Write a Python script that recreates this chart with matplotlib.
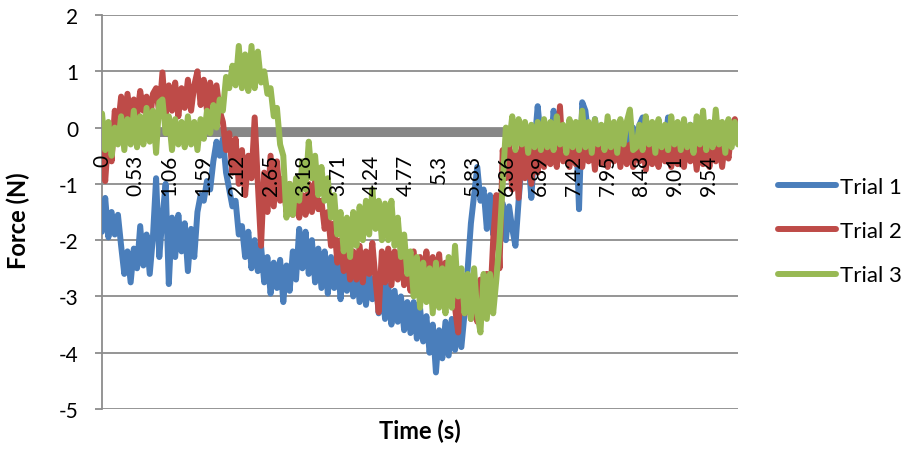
import numpy as np
import matplotlib.pyplot as plt
from matplotlib.transforms import ScaledTranslation

plt.rcParams['font.family'] = ['Lato', 'DejaVu Sans']
plt.rcParams['axes.unicode_minus'] = False

# Force readings (N), one value every 0.05 s from 0 to 10 s
trial1 = [
    -1.85, -1.25, -1.95, -1.5, -1.9, -1.55, -2.1, -2.6, -2.2, -2.75,
    -2.15, -2.5, -1.75, -2.45, -1.9, -2.6, -1.95, -0.9, -2.3, -1.6,
    -1.0, -2.78, -1.6, -2.3, -1.55, -2.2, -1.7, -2.55, -1.8, -2.3,
    -1.5, -1.2, -1.3, -0.95, -1.1, -0.6, -0.25, -0.5, -0.2, -0.8,
    -1.1, -1.4, -1.3, -1.9, -1.75, -2.3, -1.85, -2.5, -2.0, -2.55,
    -2.1, -2.75, -2.3, -2.95, -2.4, -2.85, -2.35, -3.1, -2.45, -2.9,
    -2.2, -2.7, -1.8, -2.5, -1.85, -2.6, -2.0, -2.75, -2.15, -2.85,
    -2.2, -2.95, -2.3, -2.85, -2.25, -3.05, -2.4, -2.9, -2.35, -3.0,
    -2.5, -3.1, -2.55, -3.15, -2.6, -3.05, -2.65, -3.3, -2.75, -3.4,
    -2.8, -3.5, -2.9, -3.45, -3.0, -3.6, -3.1, -3.65, -3.1, -3.75,
    -3.2, -3.8, -3.35, -4.0, -3.5, -4.35, -3.6, -4.1, -3.45, -4.05,
    -3.4, -3.95, -3.35, -3.9, -3.3, -2.5, -1.7, -1.2, -0.7, -1.3,
    -1.1, -1.8, -1.2, -1.9, -1.3, -1.75, -1.35, -2.0, -1.4, -1.8,
    -2.1, -1.3, -0.6, -0.2, -0.5, -1.25, -0.3, 0.38, -0.2, -0.5,
    -0.1, -0.45, 0.3, -0.2, -0.5, 0.0, -0.4, -0.1, -0.45, 0.05,
    -1.45, 0.45, 0.3, -0.2, -0.4, 0.15, -0.3, -0.05, -0.45, 0.0,
    -0.3, 0.05, -0.4, -0.05, -0.35, 0.05, -0.4, 0.0, -0.3, 0.05,
    0.18, -0.3, 0.0, -0.4, 0.05, -0.3, 0.0, -0.35, 0.18, -0.68,
    -0.2, 0.05, -0.35, 0.0, -0.4, 0.05, -0.3, 0.0, -0.35, 0.05,
    -0.3, 0.0, -0.4, 0.05, -0.3, 0.0, -0.35, 0.05, -0.3, 0.0,
    -0.2,
]

trial2 = [
    -0.4, -0.95, -0.1, -0.6, 0.3, 0.0, 0.55, 0.1, 0.6, 0.15,
    0.5, 0.2, 0.65, 0.3, 0.55, 0.1, 0.6, 0.7, 0.25, 0.98,
    0.2, 0.75, 0.3, 0.8, 0.2, 0.7, 0.35, 0.85, 0.3, 0.75,
    1.0, 0.4, 0.85, 0.3, 0.8, 0.35, 0.75, 0.3, 0.1, -0.4,
    -0.1, -0.8, -0.2, -1.0, -0.4, -1.2, -0.5, -0.9, 0.18, -1.0,
    -2.1, -0.8, -1.5, -0.5, -1.4, -0.6, -1.3, -0.9, -1.5, -1.0,
    -1.55, -1.1, -1.6, -1.2, -1.55, -1.0, -1.5, -0.95, -1.45, -1.3,
    -1.8, -1.5, -2.1, -1.7, -2.4, -2.0, -2.55, -2.1, -2.7, -2.2,
    -2.7, -2.1, -2.75, -2.2, -2.6, -2.05, -2.7, -3.28, -2.2, -2.75,
    -2.15, -2.8, -2.2, -2.7, -2.1, -2.8, -2.3, -2.9, -2.2, -2.95,
    -2.3, -3.0, -2.2, -2.9, -2.3, -3.05, -2.25, -2.95, -2.4, -3.1,
    -2.5, -3.2, -3.64, -2.6, -3.3, -2.7, -3.4, -2.8, -3.45, -2.7,
    -3.3, -2.6, -3.2, -2.0, -1.2, -2.5, -0.4, -0.9, -0.3, -1.1,
    -0.4, -1.25, -0.3, -0.9, -0.35, -1.0, -0.3, -0.8, -0.2, -0.7,
    -0.3, -0.65, -0.2, -0.7, 0.38, -0.6, -0.2, -0.7, -0.25, -0.65,
    -0.2, -0.7, -0.25, -0.6, -0.15, -0.75, -0.2, -0.65, -0.3, -0.7,
    -0.2, -0.6, -0.25, -0.7, -0.2, -0.65, -0.3, -0.7, -0.2, -0.6,
    -0.25, -0.75, -0.2, -0.65, -0.3, -0.7, -0.2, -0.6, -0.25, -0.7,
    -0.2, -0.65, -0.3, -0.7, -0.2, -0.6, -0.25, -0.75, -0.2, -0.65,
    -0.3, -0.7, -0.2, -0.6, -0.25, -0.7, -0.2, -0.55, 0.0, 0.15,
    -0.1,
]

trial3 = [
    0.25, -0.4, 0.1, -0.5, 0.0, -0.3, 0.2, -0.4, 0.15, -0.3,
    0.3, -0.35, 0.2, -0.3, 0.35, -0.25, 0.3, -0.45, 0.45, 0.5,
    -0.1, 0.2, -0.4, 0.15, -0.3, 0.1, -0.35, 0.2, -0.3, 0.1,
    -0.4, 0.15, -0.2, 0.3, -0.1, 0.4, 0.0, 0.5, 0.3, 0.9,
    0.7, 1.1, 0.75, 1.45, 0.7, 1.3, 0.65, 1.45, 0.7, 1.35,
    0.8, 1.0, 0.6, 0.7, 0.2, 0.35, -0.3, -0.5, -1.6, -1.0,
    -1.55, -0.9, -1.3, -0.6, -1.1, -0.25, -0.9, -0.5, -1.2, -0.7,
    -1.3, -0.9, -1.6, -1.2, -1.9, -1.5, -2.2, -1.6, -2.3, -1.5,
    -2.1, -1.4, -2.0, -1.3, -1.9, -1.1, -1.8, -1.3, -2.0, -1.35,
    -2.0, -1.3, -2.1, -1.6, -2.3, -1.9, -2.6, -2.2, -3.0, -2.3,
    -3.2, -2.4, -3.1, -2.5, -3.3, -2.4, -3.2, -2.5, -3.3, -2.3,
    -3.2, -2.1, -3.0, -2.5, -3.3, -2.6, -3.4, -2.5, -3.3, -3.64,
    -2.6, -3.4, -2.6, -3.3, -2.7, -2.0, -1.0, 0.0, -0.3, 0.2,
    -0.4, 0.15, -0.3, 0.1, -0.45, 0.05, -0.35, 0.1, -0.4, 0.15,
    -0.35, 0.1, -0.4, 0.2, -0.3, 0.05, -0.45, 0.15, -0.35, 0.1,
    -0.4, 0.3, -0.35, 0.1, -0.45, 0.15, -0.3, 0.05, -0.4, 0.2,
    -0.35, 0.1, -0.45, 0.15, -0.3, 0.1, 0.32, -0.4, -0.35, 0.05,
    -0.4, 0.2, -0.3, 0.1, -0.45, 0.15, -0.35, 0.05, -0.4, 0.2,
    -0.3, 0.1, -0.4, 0.15, -0.35, 0.05, -0.45, 0.2, -0.3, 0.3,
    -0.4, 0.1, -0.35, 0.32, -0.3, 0.1, -0.45, 0.15, -0.35, 0.1,
    -0.3,
]

tick_labels = ["0", "0.53", "1.06", "1.59", "2.12", "2.65", "3.18", "3.71", "4.24", "4.77",
               "5.3", "5.83", "6.36", "6.89", "7.42", "7.95", "8.48", "9.01", "9.54"]
series_names = ["Trial 1", "Trial 2", "Trial 3"]
colors = ["#4A7EBB", "#BE4B48", "#98B954"]

t = np.arange(len(trial1)) * 0.05

fig = plt.figure(figsize=(9.07, 4.52), dpi=100)
ax = fig.add_axes([0.1125, 0.0929, 0.7012, 0.8717])

for y, name, c in zip([trial1, trial2, trial3], series_names, colors):
    ax.plot(t, y, color=c, lw=4.3, label=name, zorder=3,
            solid_joinstyle='round', solid_capstyle='round')

ax.set_xlim(0, 10)
ax.set_ylim(-5, 2)
ax.set_yticks(range(-5, 3))
ax.grid(axis='y', color='#8C8C8C', lw=1.3)
ax.yaxis.set_zorder(0.5)

# thick category axis crossing at zero, drawn just below the zero line
zero_line = ax.axhline(0, color='#878787', lw=6.5, zorder=1)
zero_line.set_transform(zero_line.get_transform() + ScaledTranslation(0, -4.5 / 100, fig.dpi_scale_trans))

for s in ['top', 'right']:
    ax.spines[s].set_visible(False)
ax.spines['bottom'].set_position(('data', 0))
ax.spines['bottom'].set_visible(False)
ax.spines['left'].set_color('#8C8C8C')
ax.spines['left'].set_linewidth(1.3)

ax.set_xticks([float(v) for v in tick_labels])
ax.set_xticklabels(tick_labels, rotation=90)
ax.tick_params(axis='x', length=0, pad=19, labelsize=15)
ax.xaxis.set_zorder(5)
ax.tick_params(axis='y', length=5, width=1.3, color='#8C8C8C', pad=12, labelsize=15)

ax.set_xlabel('Time (s)', fontsize=17, fontweight='bold')
ax.xaxis.set_label_coords(0.5, -0.025)
ax.set_ylabel('Force (N)', fontsize=17, fontweight='bold')
ax.yaxis.set_label_coords(-0.113, 0.48)

ax.legend(loc='center left', bbox_to_anchor=(778 / 907, 1 - 232 / 452), bbox_transform=fig.transFigure,
          frameon=False, fontsize=16, handlelength=2.6, handletextpad=0.2, labelspacing=1.1,
          borderpad=0, borderaxespad=0)

fig.savefig('out.png', dpi=100)
